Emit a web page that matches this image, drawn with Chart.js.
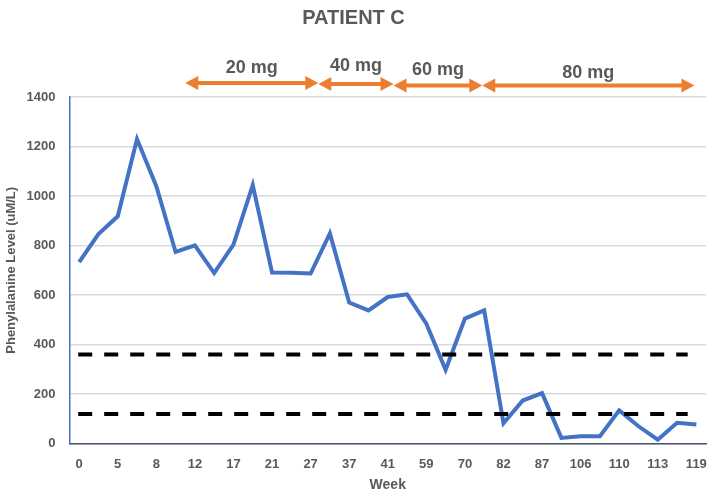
<!DOCTYPE html>
<html>
<head>
<meta charset="utf-8">
<script src="https://cdn.jsdelivr.net/npm/chart.js@4"></script>
<style>
  html, body { margin: 0; padding: 0; background: #fff; }
  #wrap { width: 714px; height: 498px; }
</style>
</head>
<body>
<div id="wrap"><canvas id="patientChart"></canvas></div>
<script>
// tick labels shown under every other point
const weekLabels = [0, 5, 8, 12, 17, 21, 27, 37, 41, 59, 70, 82, 87, 106, 110, 113, 119];

// phenylalanine level, one value per measurement (33 points)
const pheLevels = [
  733, 846, 918, 1230, 1040, 774, 801, 689, 804, 1044,
  691, 690, 687, 849, 570, 538, 592, 603, 484, 298,
  505, 538, 82, 174, 204, 23, 30, 30, 134, 70,
  16, 84, 77
];

// target range lines
const thresholds = [360, 120];

// dose periods, start / end given as point index
const doseLabels = ["20 mg", "40 mg", "60 mg", "80 mg"];
const doseStart = [5.5, 12.4, 16.3, 20.9];
const doseEnd = [12.4, 16.3, 20.9, 31.9];

const categories = [];
pheLevels.forEach((v, i) => {
  categories.push(i % 2 === 0 ? String(weekLabels[i / 2]) : "");
});

const gray = "#595959";
const orange = "#ED7D31";
const fontFamily = "'Liberation Sans', Arial, sans-serif";

const overlays = {
  id: "overlays",
  afterDatasetsDraw(chart) {
    const { ctx } = chart;
    const x = chart.scales.x;
    const y = chart.scales.y;

    // dashed reference lines
    ctx.save();
    ctx.strokeStyle = "#000";
    ctx.lineWidth = 4;
    ctx.setLineDash([14, 12]);
    thresholds.forEach(t => {
      const py = y.getPixelForValue(t);
      ctx.beginPath();
      ctx.moveTo(x.getPixelForValue(-0.05), py);
      ctx.lineTo(x.getPixelForValue(31.55), py);
      ctx.stroke();
    });
    ctx.restore();

    // dose arrows
    const arrowY = [83, 84, 85.5, 85.5];
    const labelY = [68, 66, 70, 73];
    ctx.save();
    doseLabels.forEach((label, i) => {
      const x1 = x.getPixelForValue(doseStart[i]);
      const x2 = x.getPixelForValue(doseEnd[i]);
      const yy = arrowY[i];
      ctx.strokeStyle = orange;
      ctx.fillStyle = orange;
      ctx.lineWidth = 4;
      ctx.beginPath();
      ctx.moveTo(x1 + 8, yy);
      ctx.lineTo(x2 - 8, yy);
      ctx.stroke();
      // heads
      ctx.beginPath();
      ctx.moveTo(x1, yy);
      ctx.lineTo(x1 + 13, yy - 7);
      ctx.lineTo(x1 + 13, yy + 7);
      ctx.closePath();
      ctx.fill();
      ctx.beginPath();
      ctx.moveTo(x2, yy);
      ctx.lineTo(x2 - 13, yy - 7);
      ctx.lineTo(x2 - 13, yy + 7);
      ctx.closePath();
      ctx.fill();

      ctx.fillStyle = gray;
      ctx.font = "bold 18px " + fontFamily;
      ctx.textAlign = "center";
      ctx.textBaseline = "middle";
      ctx.fillText(label, (x1 + x2) / 2, labelY[i]);
    });
    ctx.restore();
  }
};

const ctx = document.getElementById("patientChart");

new Chart(ctx, {
  type: "line",
  data: {
    labels: categories,
    datasets: [{
      data: pheLevels,
      borderColor: "#4472C4",
      borderWidth: 4,
      pointRadius: 0,
      tension: 0,
      fill: false
    }]
  },
  options: {
    responsive: true,
    maintainAspectRatio: false,
    animation: false,
    layout: { padding: { left: 1, right: 8, bottom: 4 } },
    scales: {
      x: {
        offset: true,
        grid: { display: false },
        border: { display: true, color: "#44546A", width: 1.5 },
        ticks: {
          autoSkip: false,
          maxRotation: 0,
          padding: 5,
          color: gray,
          font: { family: fontFamily, size: 13, weight: "bold" }
        },
        title: {
          display: true,
          text: "Week",
          color: gray,
          font: { family: fontFamily, size: 14, weight: "bold" },
          padding: { top: 0, bottom: 0 }
        }
      },
      y: {
        min: 0,
        max: 1400,
        ticks: {
          stepSize: 200,
          padding: 7,
          color: gray,
          font: { family: fontFamily, size: 13, weight: "bold" },
          callback: value => String(value)
        },
        grid: {
          color: "#D9D9D9",
          lineWidth: 1.5,
          drawTicks: true,
          tickLength: 7,
          tickColor: "rgba(0,0,0,0)"
        },
        border: { display: true, color: "#4472C4", width: 1.5 },
        title: {
          display: true,
          text: "Phenylalanine Level (uM/L)",
          color: gray,
          font: { family: fontFamily, size: 13, weight: "bold" },
          padding: { top: 3, bottom: 0 }
        }
      }
    },
    plugins: {
      legend: { display: false },
      tooltip: { enabled: false },
      title: {
        display: true,
        text: "PATIENT C",
        color: gray,
        font: { family: fontFamily, size: 20, weight: "bold" },
        padding: { top: 6, bottom: 67 }
      }
    }
  },
  plugins: [overlays]
});
</script>
</body>
</html>
